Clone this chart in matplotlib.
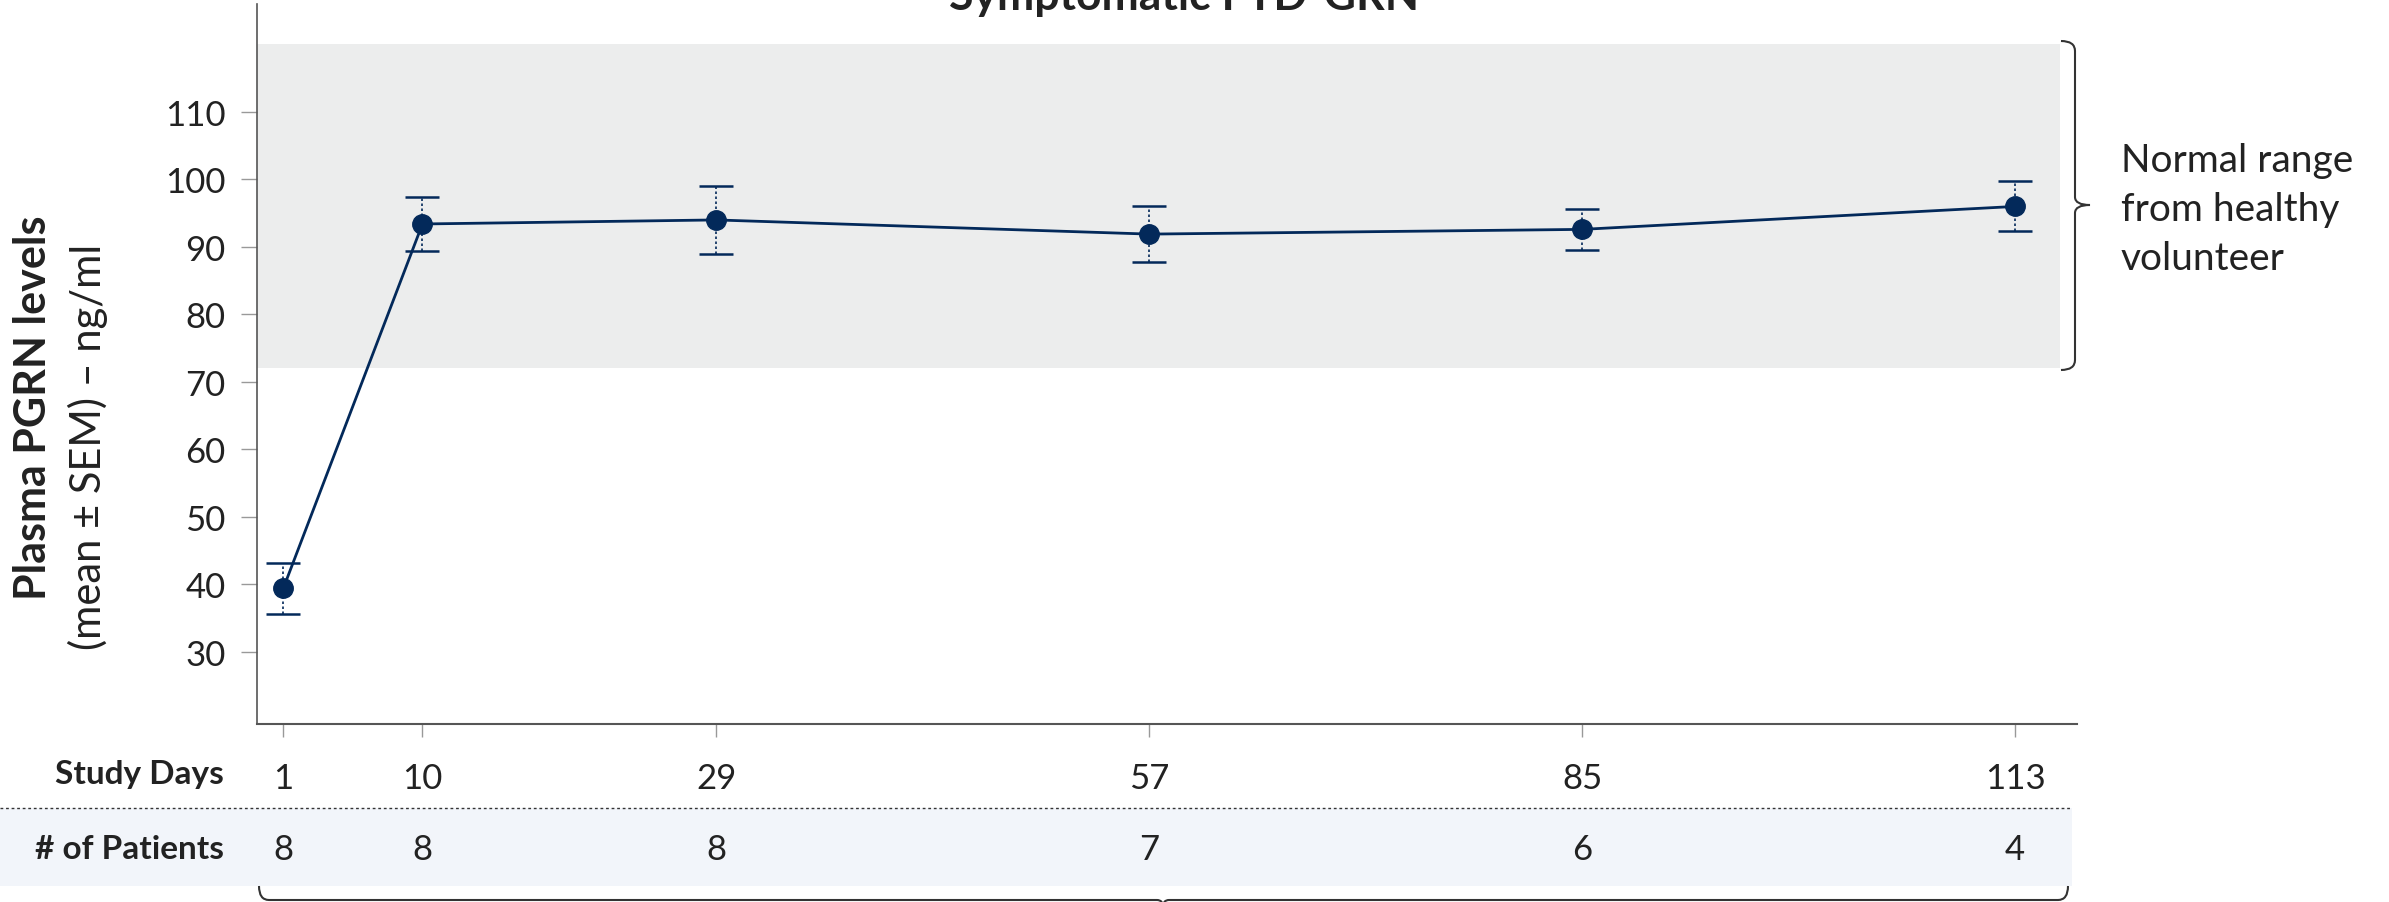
import matplotlib.pyplot as plt
from matplotlib.patches import Rectangle, PathPatch
from matplotlib.path import Path
from matplotlib.lines import Line2D
from matplotlib.transforms import blended_transform_factory

plt.rcParams['font.family'] = ['Lato', 'DejaVu Sans']

# plasma PGRN over the study, mean and SEM per visit
study_days = [1, 10, 29, 57, 85, 113]
pgrn_mean = [39.4, 93.4, 94.0, 91.9, 92.6, 96.0]
pgrn_sem = [3.8, 4.0, 5.0, 4.2, 3.0, 3.7]
n_patients = [8, 8, 8, 7, 6, 4]
y_ticks = [30, 40, 50, 60, 70, 80, 90, 100, 110]
normal_low, normal_high = 72, 120

navy = '#03295A'
W, H = 2389, 903
fig = plt.figure(figsize=(W / 100, H / 100), dpi=100)


def fx(x):
    return x / W


def fy(y):
    return 1 - y / H


ax = fig.add_axes([fx(257), fy(725), fx(2077) - fx(257), fy(5) - fy(725)])
ax.set_xlim(-0.7, 117)
ax.set_ylim(19.3, 126)
ax.patch.set_alpha(0)

# healthy volunteer range
ax.fill_between([-0.7, 115.9], normal_low, normal_high, color='#ECEDED', lw=0, zorder=0)

line, caps, bars = ax.errorbar(study_days, pgrn_mean, yerr=pgrn_sem, fmt='-o', color=navy,
                               ms=14, lw=2, capsize=12, capthick=1.8, elinewidth=1.2,
                               ecolor=navy, zorder=3)
bars[0].set_linestyle((0, (1.5, 1.5)))

for s in ['top', 'right']:
    ax.spines[s].set_visible(False)
ax.spines['left'].set_color('#555555')
ax.spines['left'].set_linewidth(1.2)
ax.spines['bottom'].set_color('#555555')
ax.spines['bottom'].set_linewidth(1.5)

ax.set_yticks(y_ticks)
ax.tick_params(axis='y', length=11.5, width=1, color='#999999', pad=11,
               labelsize=25, labelcolor='#222222')
ax.set_xticks(study_days)
ax.tick_params(axis='x', length=9.5, width=1, color='#999999', pad=18,
               labelsize=25, labelcolor='#222222')

# table rows under the x axis
fig.add_artist(Rectangle((0, fy(887)), fx(2072), fy(809) - fy(887),
                         transform=fig.transFigure, color='#F2F5FA', lw=0, zorder=0))
fig.add_artist(Line2D([0, fx(2071)], [fy(809), fy(809)], transform=fig.transFigure,
                      ls=(0, (2, 2)), color='#333333', lw=1))
fig.text(fx(224), fy(775), 'Study Days', ha='right', va='center',
         fontweight='bold', fontsize=24, color='#222222')
fig.text(fx(224), fy(850), '# of Patients', ha='right', va='center',
         fontweight='bold', fontsize=24, color='#222222')
trans = blended_transform_factory(ax.transData, fig.transFigure)
for d, n in zip(study_days, n_patients):
    fig.text(d, fy(850), str(n), transform=trans, ha='center', va='center',
             fontsize=25, color='#222222')

# axis label and title
fig.text(fx(33), fy(408), 'Plasma PGRN levels', rotation=90, ha='center', va='center',
         fontweight='bold', fontsize=31, color='#222222')
fig.text(fx(88), fy(447), '(mean ± SEM) – ng/ml', rotation=90, ha='center', va='center',
         fontsize=30, color='#222222')
fig.text(fx(1184), fy(10), 'Symptomatic FTD-GRN', ha='center', va='baseline',
         fontweight='bold', fontsize=32, color='#222222')

fig.text(fx(2121), fy(210), 'Normal range\nfrom healthy\nvolunteer', ha='left', va='center',
         fontsize=28, linespacing=1.45, color='#222222')

# braces
C3, L2, M = Path.CURVE3, Path.LINETO, Path.MOVETO
right_brace = [(2061, 42), (2075, 42), (2075, 52), (2075, 198), (2075, 206), (2090, 206),
               (2075, 206), (2075, 214), (2075, 361), (2075, 371), (2061, 371)]
right_codes = [M, C3, C3, L2, C3, C3, C3, C3, L2, C3, C3]
bottom_brace = [(259, 887), (259, 901), (269, 901), (1157, 901), (1163, 901), (1163, 908),
                (1163, 901), (1169, 901), (2058, 901), (2068, 901), (2068, 887)]
bottom_codes = [M, C3, C3, L2, C3, C3, C3, C3, L2, C3, C3]
for pts, codes in [(right_brace, right_codes), (bottom_brace, bottom_codes)]:
    path = Path([(fx(x), fy(y)) for x, y in pts], codes)
    fig.add_artist(PathPatch(path, transform=fig.transFigure, fill=False,
                             edgecolor='#333333', lw=1.5))

fig.savefig('out.png', dpi=100)
